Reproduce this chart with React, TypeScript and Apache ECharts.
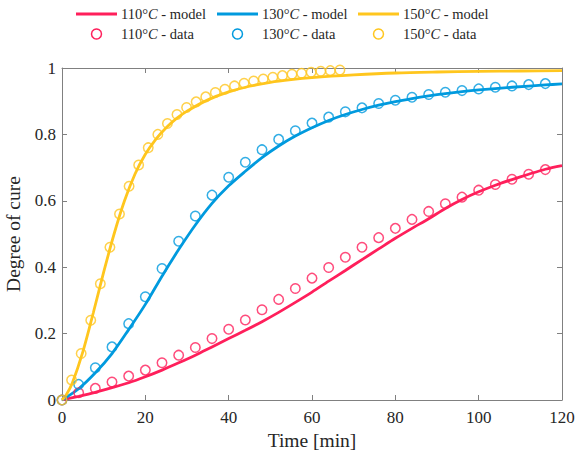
import React, { useEffect, useRef } from "react";
import * as echarts from "echarts";

// ---- data ----
const seriesColors = ["#FF1F5B", "#009ADE", "#FFC61E"];
const modelNames = ["110°C - model", "130°C - model", "150°C - model"];
const dataNames = ["110°C - data", "130°C - data", "150°C - data"];

const xTicks = [0, 20, 40, 60, 80, 100, 120];
const yTicks = [0, 0.2, 0.4, 0.6, 0.8, 1];

// measured points
const dataTime110 = [0, 4, 8, 12, 16, 20, 24, 28, 32, 36, 40, 44, 48, 52, 56, 60, 64, 68, 72, 76, 80, 84, 88, 92, 96, 100, 104, 108, 112, 116];
const dataCure110 = [0, 0.022, 0.035, 0.054, 0.072, 0.09, 0.112, 0.135, 0.158, 0.185, 0.213, 0.241, 0.272, 0.303, 0.336, 0.367, 0.399, 0.43, 0.46, 0.489, 0.517, 0.544, 0.568, 0.591, 0.611, 0.632, 0.649, 0.665, 0.68, 0.694];

const dataTime130 = [0, 4, 8, 12, 16, 20, 24, 28, 32, 36, 40, 44, 48, 52, 56, 60, 64, 68, 72, 76, 80, 84, 88, 92, 96, 100, 104, 108, 112, 116];
const dataCure130 = [0, 0.047, 0.097, 0.16, 0.23, 0.311, 0.396, 0.478, 0.554, 0.617, 0.671, 0.716, 0.754, 0.785, 0.811, 0.834, 0.852, 0.868, 0.88, 0.893, 0.903, 0.912, 0.92, 0.927, 0.932, 0.937, 0.942, 0.946, 0.95, 0.953];

const dataTime150 = [0, 2.3, 4.6, 6.9, 9.2, 11.5, 13.8, 16.1, 18.4, 20.7, 23, 25.3, 27.6, 29.9, 32.2, 34.5, 36.8, 39.1, 41.4, 43.7, 46, 48.3, 50.6, 52.9, 55.2, 57.5, 59.8, 62.1, 64.4, 66.7];
const dataCure150 = [0, 0.06, 0.14, 0.24, 0.35, 0.46, 0.56, 0.644, 0.708, 0.76, 0.8, 0.833, 0.86, 0.881, 0.898, 0.913, 0.926, 0.936, 0.946, 0.954, 0.961, 0.967, 0.972, 0.977, 0.981, 0.984, 0.987, 0.99, 0.992, 0.994];

// model curves
const modelTime110 = [0, 4, 8, 12, 16, 20, 24, 28, 32, 36, 40, 44, 48, 52, 56, 60, 64, 68, 72, 76, 80, 84, 88, 92, 96, 100, 104, 108, 112, 116, 120];
const modelCure110 = [0, 0.011, 0.023, 0.037, 0.052, 0.07, 0.09, 0.112, 0.135, 0.16, 0.185, 0.21, 0.236, 0.264, 0.294, 0.325, 0.358, 0.39, 0.423, 0.455, 0.487, 0.517, 0.546, 0.577, 0.604, 0.627, 0.647, 0.664, 0.68, 0.695, 0.706];

const modelTime130 = [0, 4, 8, 12, 16, 20, 24, 28, 32, 36, 40, 44, 48, 52, 56, 60, 64, 68, 72, 76, 80, 84, 88, 92, 96, 100, 108, 116, 120];
const modelCure130 = [0, 0.034, 0.082, 0.14, 0.212, 0.288, 0.373, 0.453, 0.527, 0.592, 0.645, 0.689, 0.73, 0.765, 0.795, 0.82, 0.842, 0.86, 0.875, 0.888, 0.899, 0.908, 0.916, 0.923, 0.929, 0.934, 0.942, 0.949, 0.952];

const modelTime150 = [0, 1, 2.5, 5, 7.5, 10, 12.5, 15, 17.5, 20, 22.5, 25, 27.5, 30, 35, 40, 45, 50, 55, 60, 70, 80, 90, 100, 110, 120];
const modelCure150 = [0, 0.015, 0.052, 0.145, 0.262, 0.385, 0.5, 0.6, 0.68, 0.74, 0.785, 0.82, 0.848, 0.87, 0.904, 0.928, 0.945, 0.957, 0.965, 0.971, 0.979, 0.985, 0.988, 0.99, 0.991, 0.992];

const modelTimes = [modelTime110, modelTime130, modelTime150];
const modelCures = [modelCure110, modelCure130, modelCure150];
const dataTimes = [dataTime110, dataTime130, dataTime150];
const dataCures = [dataCure110, dataCure130, dataCure150];

const FONT = "'Liberation Serif', 'Times New Roman', serif";
const TEXT_COLOR = "#262626";
const AXIS_COLOR = "#808080";

function pairs(xs: number[], ys: number[]) {
  return xs.map((x, i) => [x, ys[i]]);
}

function richLabel(name: string) {
  const idx = name.indexOf("C");
  const pre = name.slice(0, idx);
  const post = name.slice(idx + 1);
  return `{n|${pre}}{i|C}{n|${post}}`;
}

export default function App() {
  const ref = useRef<HTMLDivElement>(null);

  useEffect(() => {
    if (!ref.current) return;
    const chart = echarts.init(ref.current, undefined, { renderer: "svg" });

    const rich = {
      n: { fontFamily: FONT, fontSize: 14.5, fill: TEXT_COLOR, color: TEXT_COLOR },
      i: { fontFamily: FONT, fontSize: 14.5, fill: TEXT_COLOR, color: TEXT_COLOR, fontStyle: "italic" },
    };

    // legend drawn as graphic elements (two rows, three aligned columns)
    const colLeft = [76, 217, 358];
    const row1 = 14;
    const row2 = 34;
    const legendEls: any[] = [];
    modelNames.forEach((nm, k) => {
      legendEls.push({
        type: "line",
        shape: { x1: colLeft[k], y1: row1, x2: colLeft[k] + 41, y2: row1 },
        style: { stroke: seriesColors[k], lineWidth: 2.8 },
      });
      legendEls.push({
        type: "text",
        x: colLeft[k] + 45,
        y: row1,
        style: { text: richLabel(nm), rich, verticalAlign: "middle", align: "left" },
      });
    });
    dataNames.forEach((nm, k) => {
      legendEls.push({
        type: "circle",
        shape: { cx: colLeft[k] + 20.5, cy: row2, r: 5 },
        style: { fill: "none", stroke: seriesColors[k], lineWidth: 1.5 },
      });
      legendEls.push({
        type: "text",
        x: colLeft[k] + 45,
        y: row2,
        style: { text: richLabel(nm), rich, verticalAlign: "middle", align: "left" },
      });
    });

    const series: any[] = [];
    modelNames.forEach((nm, k) => {
      series.push({
        name: nm,
        type: "line",
        xAxisIndex: 0,
        yAxisIndex: 0,
        data: pairs(modelTimes[k], modelCures[k]),
        symbol: "none",
        smooth: 0.3,
        lineStyle: { color: seriesColors[k], width: 2.8 },
        itemStyle: { color: seriesColors[k] },
        z: 2,
      });
    });
    dataNames.forEach((nm, k) => {
      series.push({
        name: nm,
        type: "scatter",
        xAxisIndex: 0,
        yAxisIndex: 0,
        data: pairs(dataTimes[k], dataCures[k]),
        symbol: "circle",
        symbolSize: 9.5,
        itemStyle: { color: "rgba(0,0,0,0)", borderColor: seriesColors[k], borderWidth: 1.5 },
        z: 3,
      });
    });

    const axisCommon = {
      axisLine: { show: true, onZero: false, lineStyle: { color: AXIS_COLOR, width: 1 } },
      axisTick: { show: true, inside: true, length: 5, lineStyle: { color: AXIS_COLOR, width: 1 } },
      splitLine: { show: false },
    };

    chart.setOption({
      animation: false,
      backgroundColor: "#ffffff",
      graphic: legendEls,
      grid: { left: 62, right: 15, top: 68, bottom: 50, containLabel: false, outerBoundsMode: "none" },
      xAxis: [
        {
          type: "value",
          position: "bottom",
          min: xTicks[0],
          max: xTicks[xTicks.length - 1],
          interval: xTicks[1] - xTicks[0],
          name: "Time [min]",
          nameLocation: "middle",
          nameGap: 24,
          nameTextStyle: { fontFamily: FONT, fontSize: 19.5, lineHeight: 20, color: TEXT_COLOR },
          axisLabel: { fontFamily: FONT, fontSize: 17, color: TEXT_COLOR, margin: 9 },
          ...axisCommon,
        },
        {
          type: "value",
          position: "top",
          min: xTicks[0],
          max: xTicks[xTicks.length - 1],
          interval: xTicks[1] - xTicks[0],
          axisLabel: { show: false },
          ...axisCommon,
        },
      ],
      yAxis: [
        {
          type: "value",
          position: "left",
          min: yTicks[0],
          max: yTicks[yTicks.length - 1],
          interval: yTicks[1] - yTicks[0],
          name: "Degree of cure",
          nameLocation: "middle",
          nameGap: 37,
          nameTextStyle: { fontFamily: FONT, fontSize: 19.5, lineHeight: 20, color: TEXT_COLOR },
          axisLabel: { fontFamily: FONT, fontSize: 17, color: TEXT_COLOR, margin: 6 },
          ...axisCommon,
        },
        {
          type: "value",
          position: "right",
          min: yTicks[0],
          max: yTicks[yTicks.length - 1],
          interval: yTicks[1] - yTicks[0],
          axisLabel: { show: false },
          ...axisCommon,
        },
      ],
      series,
    });

    return () => chart.dispose();
  }, []);

  return (
    <div
      ref={ref}
      style={{ position: "fixed", left: 0, top: 0, width: 577, height: 450, background: "#fff" }}
    />
  );
}
